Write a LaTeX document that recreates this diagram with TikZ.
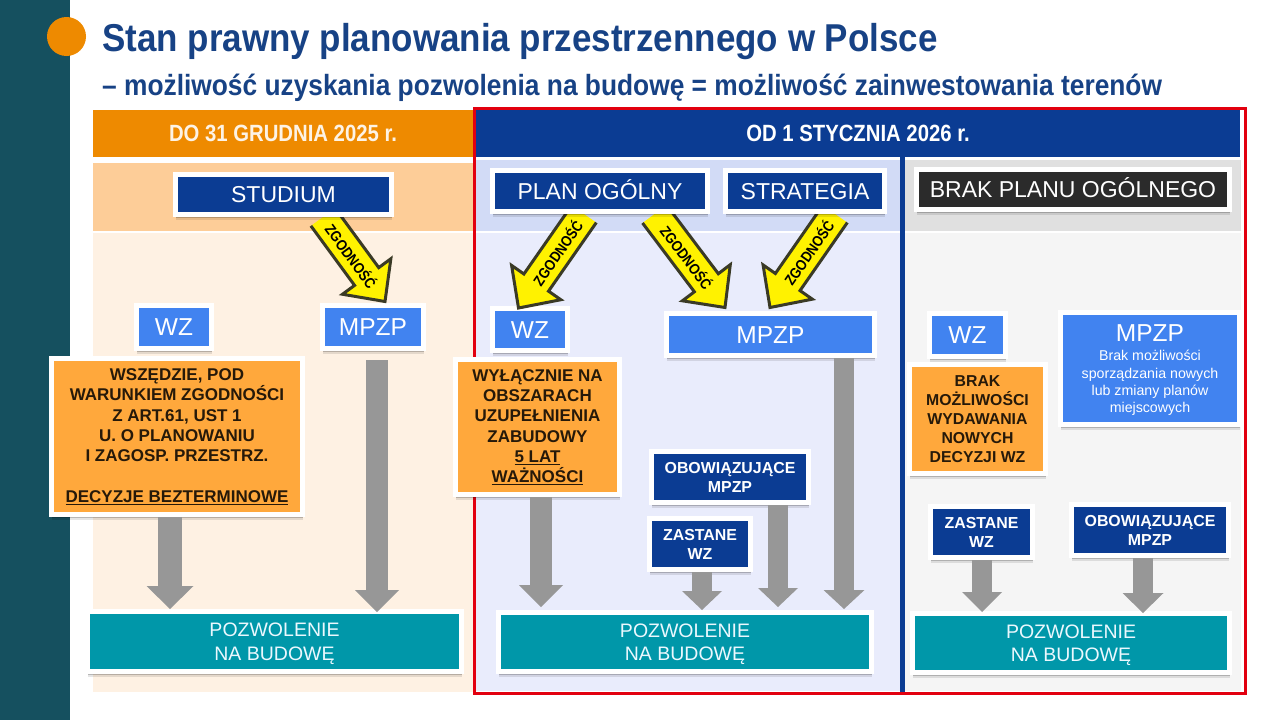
\documentclass[tikz,border=0pt]{standalone}
\usepackage{fontspec}
\setmainfont{Liberation Sans}
\newfontfamily\condfont{Liberation Sans}[FakeStretch=0.864]
\newfontfamily\titlefont{Liberation Sans}[FakeStretch=0.9]
\usetikzlibrary{arrows.meta,calc,shadows}

\pgfdeclarelayer{top}
\pgfsetlayers{main,top}

\definecolor{barteal}{HTML}{15505F}
\definecolor{mainorange}{HTML}{EE8A00}
\definecolor{mainblue}{HTML}{0B3C93}
\definecolor{titleblue}{HTML}{174285}
\definecolor{lightblue}{HTML}{4183F0}
\definecolor{boxorange}{HTML}{FFA83C}
\definecolor{boxteal}{HTML}{0097A9}
\definecolor{arrowgrey}{HTML}{979797}
\definecolor{framered}{HTML}{E2000F}
\definecolor{edgedark}{HTML}{3A3A26}
\definecolor{bandorange}{HTML}{FDCD98}
\definecolor{paleorange}{HTML}{FEF1E3}
\definecolor{bandblue}{HTML}{D2DBF6}
\definecolor{paleblue}{HTML}{E9ECFC}

\tikzset{
  whitebox/.style={draw=white,line width=5pt,inner sep=0pt,align=center,
    drop shadow={shadow xshift=.5pt,shadow yshift=-5pt,fill=black,opacity=.1},
    drop shadow={shadow xshift=.5pt,shadow yshift=-3.5pt,fill=black,opacity=.2}},
  bigbox/.style={whitebox,fill=mainblue,text=white,text height=16.5pt,text depth=0pt,font=\fontsize{23}{27}\selectfont},
  smallblue/.style={whitebox,fill=mainblue,text=white,font=\bfseries\fontsize{15.9}{19}\selectfont},
  wzbox/.style={whitebox,fill=lightblue,text=white,text height=17.5pt,text depth=0pt,font=\fontsize{24.5}{28}\selectfont},
  ordbox/.style={whitebox,fill=boxorange,text=black!85!boxorange,font=\bfseries\fontsize{17}{20.3}\selectfont},
  pozbox/.style={whitebox,fill=boxteal,text=cyan!8,text depth=0pt,font=\fontsize{19.5}{23.5}\selectfont},
  headbar/.style={inner sep=0pt,minimum height=47pt,text=white,font=\condfont\bfseries\fontsize{23.5}{27}\selectfont},
  greyarrow/.style n args={3}{draw=arrowgrey,line width=#1pt,
    -{Triangle[length=#3pt,width=#2pt,line width=0pt]}},
  zgodnosc/.style={draw=edgedark,fill=yellow,line width=3pt,miter limit=8},
  zglabel/.style={text=black,font=\condfont\bfseries\fontsize{15}{17}\selectfont,inner sep=0pt}
}

\newcommand{\zgarrow}[3]{%
  \coordinate (zgs) at #1;
  \coordinate (zgt) at #2;
  \coordinate (zgh) at ($(zgt)!31pt!(zgs)$);
  \filldraw[zgodnosc] ($(zgs)!15pt!90:(zgt)$) -- ($(zgh)!15pt!90:(zgt)$) -- ($(zgh)!30pt!90:(zgt)$)
    -- (zgt) -- ($(zgh)!30pt!-90:(zgt)$) -- ($(zgh)!15pt!-90:(zgt)$) -- ($(zgs)!15pt!-90:(zgt)$);
  \path (zgs) -- node[pos=#3,sloped,zglabel] {ZGODNOŚĆ} (zgt);
}

\begin{document}
\begin{tikzpicture}[x=1pt,y=-1pt]
	\useasboundingbox (0,0) rectangle (1280,720);
	\fill[white] (0,0) rectangle (1280,720);
	\fill[barteal] (0,0) rectangle (70,720);
	\fill[mainorange] (66.5,36.5) circle (19.5);

	% title
	\node[anchor=base west,inner sep=0pt,text=titleblue,font=\titlefont\bfseries\fontsize{38.85}{44}\selectfont] (title) at (102,51) {Stan prawny planowania przestrzennego w Polsce};
	\node[anchor=base west,inner sep=0pt,text=titleblue,font=\titlefont\bfseries\fontsize{29.25}{33}\selectfont] (subtitle) at (102,95) {– możliwość uzyskania pozwolenia na budowę = możliwość zainwestowania terenów};

	% columns
	\fill[bandorange] (93,163) rectangle (473,231);
	\fill[paleorange] (93,233) rectangle (473,692);
	\fill[bandblue] (476,160) rectangle (902,231);
	\fill[paleblue] (476,233) rectangle (902,691);
	\fill[black!12] (905,160) rectangle (1241,231);
	\fill[black!4] (905,233) rectangle (1241,691);

	\node[headbar,fill=mainorange,minimum width=380pt,text=white!90!mainorange] (headold) at (283,133.5) {DO 31 GRUDNIA 2025 r.};
	\node[headbar,fill=mainblue,minimum width=764pt] (headnew) at (858,133.5) {OD 1 STYCZNIA 2026 r.};
	\draw[mainblue,line width=5pt] (902.5,157) -- (902.5,693);
	\draw[framered,line width=3pt] (474,108.5) rectangle (1245.5,693);

	% left column
	\begin{pgfonlayer}{top}
	\node[bigbox,minimum width=216pt,minimum height=40pt] (studium) at (283.5,194.5) {STUDIUM};
	\end{pgfonlayer}
	\node[wzbox,minimum width=75pt,minimum height=43pt] (wzL) at (174,327) {WZ};
	\node[wzbox,minimum width=101pt,minimum height=43pt] (mpzpL) at (373,327) {MPZP};
	\node[ordbox,minimum width=251pt,minimum height=156pt] (ordL) at (177,436.5) {WSZĘDZIE, POD\\WARUNKIEM ZGODNOŚCI\\Z ART.61, UST 1\\U. O PLANOWANIU\\I ZAGOSP. PRZESTRZ.\\[20.3pt]\underline{DECYZJE BEZTERMINOWE}};
	\node[pozbox,minimum width=374pt,minimum height=60pt] (pozL) at (274.5,641.5) {POZWOLENIE\\NA BUDOWĘ};

	% middle column
	\begin{pgfonlayer}{top}
	\node[bigbox,minimum width=215pt,minimum height=41pt] (planog) at (600,191) {PLAN OGÓLNY};
	\node[bigbox,minimum width=159pt,minimum height=41pt] (strategia) at (805,191) {STRATEGIA};
	\end{pgfonlayer}
	\node[wzbox,minimum width=75pt,minimum height=42pt] (wzM) at (530,329.5) {WZ};
	\node[wzbox,minimum width=208pt,minimum height=42pt] (mpzpM) at (770.5,334.5) {MPZP};
	\node[ordbox,minimum width=164pt,minimum height=135pt] (ordM) at (537.5,427) {WYŁĄCZNIE NA\\OBSZARACH\\UZUPEŁNIENIA\\ZABUDOWY\\\underline{5 LAT}\\\underline{WAŻNOŚCI}};
	\node[smallblue,minimum width=157pt,minimum height=51pt] (obowM) at (730,477) {OBOWIĄZUJĄCE\\MPZP};
	\node[smallblue,minimum width=101pt,minimum height=51pt] (zastM) at (700,544) {ZASTANE\\WZ};
	\node[pozbox,minimum width=373pt,minimum height=59pt] (pozM) at (685,642) {POZWOLENIE\\NA BUDOWĘ};

	% right column
	\node[bigbox,fill=black!83,minimum width=313pt,minimum height=40pt] (brak) at (1073,189.5) {BRAK PLANU OGÓLNEGO};
	\node[wzbox,minimum width=76pt,minimum height=43pt] (wzR) at (967.5,335) {WZ};
	\node[whitebox,fill=lightblue,text=white,text depth=-2pt,font=\fontsize{14.2}{17.3}\selectfont,minimum width=179pt,minimum height=112pt] (mpzpR) at (1150,368.5) {{\fontsize{24.5}{26}\selectfont MPZP}\\[2.4pt]Brak możliwości\\sporządzania nowych\\lub zmiany planów\\miejscowych};
	\node[ordbox,font=\bfseries\fontsize{15.8}{19}\selectfont,minimum width=136pt,minimum height=109pt] (ordR) at (977.5,419) {BRAK\\MOŻLIWOŚCI\\WYDAWANIA\\NOWYCH\\DECYZJI WZ};
	\node[smallblue,minimum width=102pt,minimum height=51pt] (zastR) at (981.5,532) {ZASTANE\\WZ};
	\node[smallblue,minimum width=157pt,minimum height=51pt] (obowR) at (1150,530) {OBOWIĄZUJĄCE\\MPZP};
	\node[pozbox,minimum width=317pt,minimum height=59pt] (pozR) at (1071,643) {POZWOLENIE\\NA BUDOWĘ};

	% grey arrows
	\draw[greyarrow={24}{47}{23}] ([xshift=-7pt]ordL.south) -- ([xshift=-104.5pt]pozL.north);
	\draw[greyarrow={22}{44}{22}] ([xshift=4pt,yshift=-9pt]mpzpL.south) -- ([xshift=102.5pt,yshift=-3pt]pozL.north);
	\draw[greyarrow={22}{44}{22}] ([xshift=3.5pt]ordM.south) -- ([xshift=-144pt,yshift=3pt]pozM.north);
	\draw[greyarrow={20}{40}{19}] ([xshift=2pt]zastM.south) -- ([xshift=17pt]pozM.north);
	\draw[greyarrow={20}{40}{19}] ([xshift=48pt]obowM.south) -- ([xshift=93pt,yshift=3pt]pozM.north);
	\draw[greyarrow={20}{41}{19}] ([xshift=73.5pt]mpzpM.south) -- ([xshift=159pt,yshift=1pt]pozM.north);
	\draw[greyarrow={20}{40}{20}] ([xshift=.5pt]zastR.south) -- ([xshift=-89pt,yshift=-1pt]pozR.north);
	\draw[greyarrow={20}{41}{20}] ([xshift=-7pt]obowR.south) -- ([xshift=72pt,yshift=-2pt]pozR.north);

	% yellow arrows
	\zgarrow{([xshift=39.5pt]studium.south)}{([xshift=12pt,yshift=1.5pt]mpzpL.north)}{.46}
	\zgarrow{([xshift=-16pt]planog.south)}{([xshift=-11.5pt,yshift=-2pt]wzM.north)}{.41}
	\zgarrow{([xshift=54.5pt]planog.south)}{([xshift=-45.5pt,yshift=3.5pt]mpzpM.north)}{.46}
	\zgarrow{([xshift=30pt]strategia.south)}{([xshift=-.5pt,yshift=3.5pt]mpzpM.north)}{.41}
\end{tikzpicture}
\end{document}
